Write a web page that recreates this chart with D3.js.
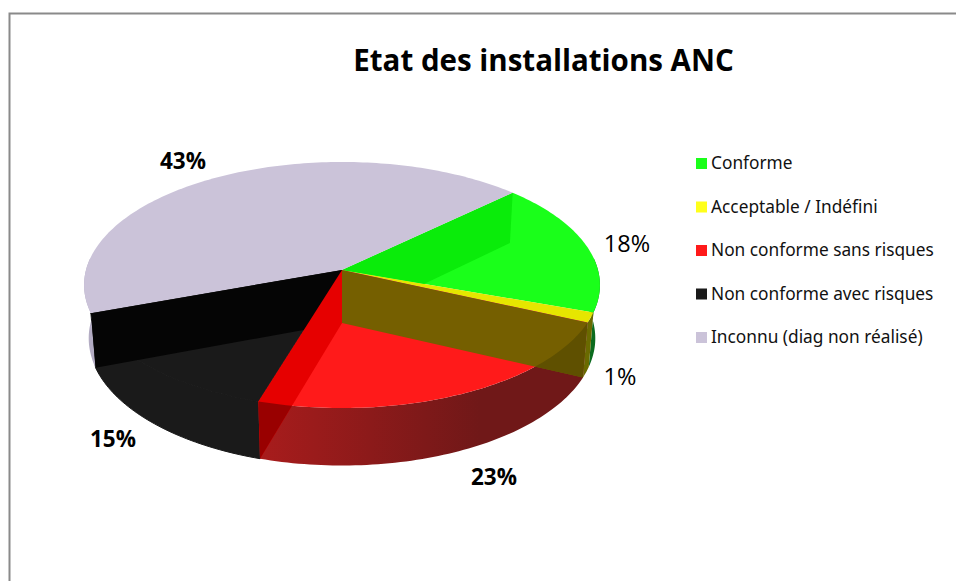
<!DOCTYPE html>
<html>
<head>
<meta charset="utf-8">
<script src="https://cdn.jsdelivr.net/npm/d3@7"></script>
<style>
  html, body { margin: 0; padding: 0; background: #fff; overflow: hidden; }
  svg { display: block; }
</style>
</head>
<body>
<script>
// valeurs
const categories = ["Conforme", "Acceptable / Indéfini", "Non conforme sans risques", "Non conforme avec risques", "Inconnu (diag non réalisé)"];
const values = [17.6, 1.3, 22.9, 14.8, 43.4];
const chartTitle = "Etat des installations ANC";

// couleurs : dessus, côté, légende
const topColors = ["#1aff1a", "#e6e600", "#ff1a1a", "#1a1a1a", "#cbc3d9"];
const sideColors = ["#0b6b1e", "#6a6a00", "#7a1818", "#1a1a1a", "#b3acc3"];
const legendColors = ["#1aff1a", "#ffff1a", "#ff1a1a", "#1a1a1a", "#cbc3d9"];

const width = 956, height = 581;

// réglages de la projection (perspective façon Excel)
const cx = 342, cy = 270, A = 256, B = 121.2, k = 0.122, D = 54, m = 0.018;
const startDeg = 46.3;

const svg = d3.select("body").append("svg")
  .attr("width", width)
  .attr("height", height);

const defs = svg.append("defs");

// cadre gris
svg.append("path")
  .attr("d", `M9.5,${height} L9.5,13.5 L${width},13.5`)
  .attr("fill", "none")
  .attr("stroke", "#8a8a8a")
  .attr("stroke-width", 2);

// projection d'un point du disque, z=0 dessus, z=1 dessous
function project(theta, r, z) {
  const X = r * Math.sin(theta);
  const Y = -r * Math.cos(theta);
  const w = 1 - k * Y + m * z;
  return [cx + A * X / w, cy + (B * Y + D * z) / w];
}

const pie = d3.pie().sort(null).value(d => d)
  .startAngle(startDeg * Math.PI / 180)
  .endAngle(startDeg * Math.PI / 180 + 2 * Math.PI);
const slices = pie(values);

const line = d3.line().curve(d3.curveLinear);

function arcPoints(a0, a1, z) {
  const n = Math.max(2, Math.ceil((a1 - a0) / 0.02));
  return d3.range(n + 1).map(i => project(a0 + (a1 - a0) * i / n, 1, z));
}
function topPath(s) {
  return line([project(0, 0, 0), ...arcPoints(s.startAngle, s.endAngle, 0)]) + "Z";
}
function sidePath(a0, a1) {
  return line([...arcPoints(a0, a1, 0), ...arcPoints(a0, a1, 1).reverse()]) + "Z";
}
function wallPath(a) {
  return line([project(0, 0, 0), project(a, 1, 0), project(a, 1, 1), project(0, 0, 1)]) + "Z";
}

// dégradé du côté rouge
const grad = defs.append("linearGradient")
  .attr("id", "sideRed")
  .attr("gradientUnits", "userSpaceOnUse")
  .attr("x1", 260).attr("x2", 480).attr("y1", 0).attr("y2", 0);
grad.append("stop").attr("offset", 0).attr("stop-color", "#a81c1c");
grad.append("stop").attr("offset", 1).attr("stop-color", "#701818");

// parties visibles du côté (de l'extrême droite à l'extrême gauche)
const visA0 = Math.PI / 2 - 0.1, visA1 = 3 * Math.PI / 2 + 0.1;
const sides = slices.map((s, i) => {
  const list = [];
  [0, 2 * Math.PI].forEach(off => {
    const a0 = Math.max(s.startAngle - off, visA0), a1 = Math.min(s.endAngle - off, visA1);
    if (a1 > a0) list.push([a0, a1]);
  });
  return list.map(r => ({ i, r }));
}).flat();

svg.append("g").selectAll("path")
  .data(sides)
  .join("path")
  .attr("d", d => sidePath(d.r[0], d.r[1]))
  .attr("fill", d => d.i === 2 ? "url(#sideRed)" : sideColors[d.i])
  .attr("stroke", d => d.i === 3 ? sideColors[3] : "none");

// dessus du camembert
svg.append("g").selectAll("path")
  .data(slices)
  .join("path")
  .attr("d", topPath)
  .attr("fill", (d, i) => topColors[i])
  .attr("stroke", (d, i) => i === 3 ? topColors[3] : "none");

// découpes pour les parois vues par transparence
defs.append("clipPath").attr("id", "clipGreen").append("path").attr("d", topPath(slices[0]));
defs.append("clipPath").attr("id", "clipRedSide").append("path").attr("d", sidePath(slices[2].startAngle, slices[2].endAngle));

const walls = svg.append("g");
// paroi verte vue à travers le dessus
walls.append("path").attr("d", wallPath(slices[0].startAngle))
  .attr("clip-path", "url(#clipGreen)").attr("fill", "#0aec0a");
// paroi noire
walls.append("path").attr("d", wallPath(slices[3].endAngle)).attr("fill", "#050505");
// paroi rouge
walls.append("path").attr("d", wallPath(slices[2].endAngle)).attr("fill", "#e60000");
walls.append("path").attr("d", wallPath(slices[2].endAngle))
  .attr("clip-path", "url(#clipRedSide)").attr("fill", "#990000");
// paroi jaune / brune
walls.append("path").attr("d", wallPath(slices[1].endAngle)).attr("fill", "#755f00");
walls.append("path").attr("d", wallPath(slices[1].endAngle))
  .attr("clip-path", "url(#clipRedSide)").attr("fill", "#5f5000");

// titre
svg.append("text")
  .attr("x", 543.5).attr("y", 71)
  .attr("text-anchor", "middle")
  .attr("font-family", "'Open Sans', sans-serif")
  .attr("font-weight", "bold")
  .attr("font-size", 29.5)
  .attr("fill", "#000")
  .text(chartTitle);

// étiquettes de pourcentage
const labelAnchors = [[627, 244], [620, 377], [494, 477], [113, 439], [183, 161]];
const labelBold = [false, false, true, true, true];
const pct = d3.format(".0%");
const total = d3.sum(values);
svg.append("g").selectAll("text")
  .data(values)
  .join("text")
  .attr("x", (d, i) => labelAnchors[i][0])
  .attr("y", (d, i) => labelAnchors[i][1])
  .attr("dy", "0.36em")
  .attr("text-anchor", "middle")
  .attr("font-family", "'Open Sans', sans-serif")
  .attr("font-size", (d, i) => labelBold[i] ? 22.5 : 23.5)
  .attr("font-weight", (d, i) => labelBold[i] ? "bold" : "normal")
  .attr("fill", "#000")
  .text(d => pct(d / total));

// légende
const legendY = d3.scalePoint().domain(categories).range([163, 337]);
const legend = svg.append("g").selectAll("g")
  .data(categories)
  .join("g")
  .attr("transform", d => `translate(696,${legendY(d)})`);
legend.append("rect")
  .attr("x", 0).attr("y", -5)
  .attr("width", 11).attr("height", 11)
  .attr("fill", (d, i) => legendColors[i]);
legend.append("text")
  .attr("x", 15).attr("dy", "0.36em")
  .attr("font-family", "'Noto Sans', sans-serif")
  .attr("font-size", 17.3)
  .attr("fill", "#111")
  .text(d => d);
</script>
</body>
</html>
